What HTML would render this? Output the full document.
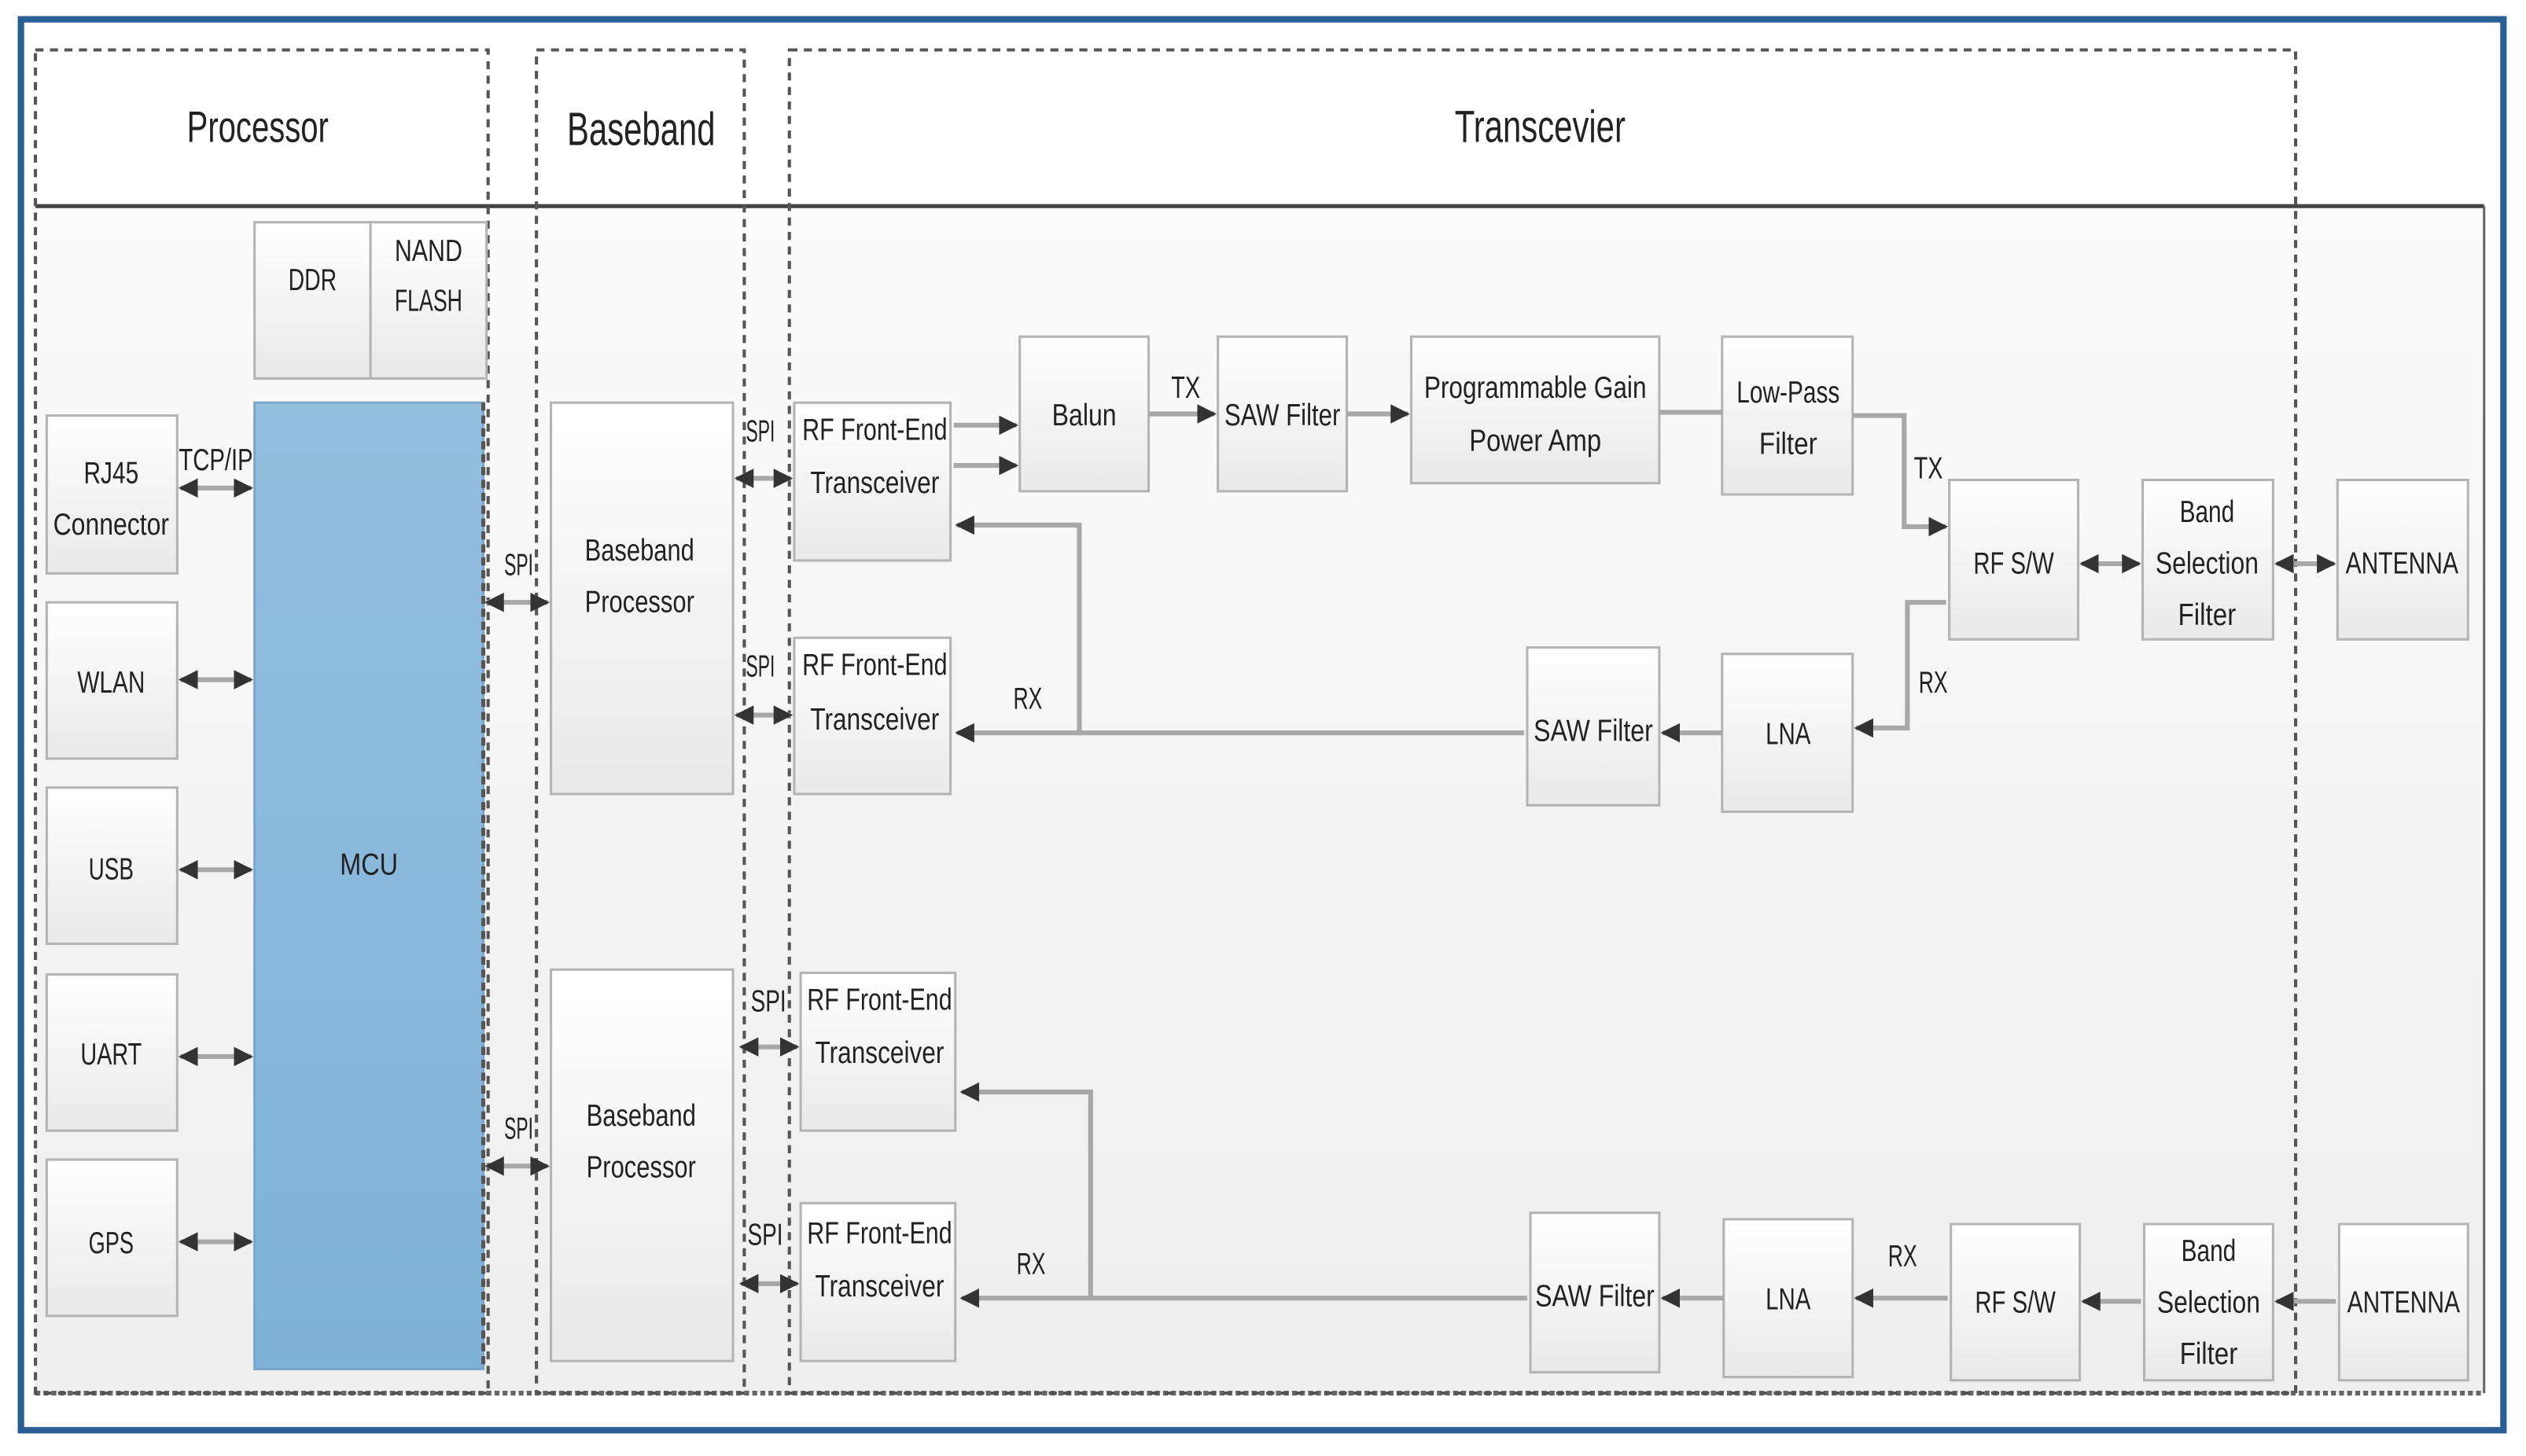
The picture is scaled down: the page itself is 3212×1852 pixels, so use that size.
<!DOCTYPE html>
<html><head><meta charset="utf-8"><style>
html,body{margin:0;padding:0;background:#fff;}
svg{display:block;}
text{font-family:"Liberation Sans",sans-serif;fill:#222;}
</style></head><body>
<svg width="3212" height="1852" viewBox="0 0 1568 904" preserveAspectRatio="none" xmlns="http://www.w3.org/2000/svg">
<defs>
<linearGradient id="bx" x1="0" y1="0" x2="0" y2="1"><stop offset="0" stop-color="#ffffff"/><stop offset="1" stop-color="#e9e9e9"/></linearGradient>
<linearGradient id="pn" x1="0" y1="0" x2="0" y2="1"><stop offset="0" stop-color="#fbfbfb"/><stop offset="1" stop-color="#eeeeee"/></linearGradient>
<linearGradient id="mcu" x1="0" y1="0" x2="0" y2="1"><stop offset="0" stop-color="#93bfdf"/><stop offset="1" stop-color="#7fb2d8"/></linearGradient>
<marker id="a" viewBox="0 0 10 10" refX="9" refY="5" markerWidth="4" markerHeight="4" orient="auto-start-reverse"><path d="M0,0L10,5L0,10z" fill="#333"/></marker>
</defs>
<rect x="0" y="0" width="1568" height="904" fill="#fff"/>
<!-- outer blue border -->
<rect x="13" y="12" width="1541" height="876" fill="#fff" stroke="#2a5f95" stroke-width="4"/>
<!-- inner panel -->
<rect x="22" y="128" width="1520" height="737" fill="url(#pn)"/>
<line x1="22" y1="128" x2="1542" y2="128" stroke="#444" stroke-width="2.5"/>
<line x1="1542" y1="128" x2="1542" y2="865" stroke="#666" stroke-width="1.5"/>
<line x1="22" y1="865" x2="1542" y2="865" stroke="#666" stroke-width="3" stroke-dasharray="3,2"/>
<!-- dashed regions -->
<g fill="none" stroke="#555" stroke-width="2" stroke-dasharray="5,4">
<rect x="22" y="31" width="281" height="834"/>
<rect x="333" y="31" width="129" height="834"/>
<rect x="490" y="31" width="935" height="834"/>
</g>
<text x="160" y="88" font-size="27" text-anchor="middle" textLength="88" lengthAdjust="spacingAndGlyphs">Processor</text>
<text x="398" y="90" font-size="29" text-anchor="middle" textLength="92" lengthAdjust="spacingAndGlyphs">Baseband</text>
<text x="956" y="88" font-size="28" text-anchor="middle" textLength="106" lengthAdjust="spacingAndGlyphs">Transcevier</text>

<!-- boxes -->
<g stroke="#b4b4b4" stroke-width="1.5" fill="url(#bx)">
<rect x="158" y="138" width="72" height="97"/>
<rect x="230" y="138" width="72" height="97"/>
<rect x="29" y="258" width="81" height="98"/>
<rect x="29" y="374" width="81" height="97"/>
<rect x="29" y="489" width="81" height="97"/>
<rect x="29" y="605" width="81" height="97"/>
<rect x="29" y="720" width="81" height="97"/>
<rect x="342" y="250" width="113" height="243"/>
<rect x="342" y="602" width="113" height="243"/>
<rect x="493" y="250" width="97" height="98"/>
<rect x="493" y="396" width="97" height="97"/>
<rect x="497" y="604" width="96" height="98"/>
<rect x="497" y="747" width="96" height="98"/>
<rect x="633" y="209" width="80" height="96"/>
<rect x="756" y="209" width="80" height="96"/>
<rect x="876" y="209" width="154" height="91"/>
<rect x="1069" y="209" width="81" height="98"/>
<rect x="1210" y="298" width="80" height="99"/>
<rect x="1330" y="298" width="81" height="99"/>
<rect x="1451" y="298" width="81" height="99"/>
<rect x="948" y="402" width="82" height="98"/>
<rect x="1069" y="406" width="81" height="98"/>
<rect x="950" y="753" width="80" height="99"/>
<rect x="1070" y="757" width="80" height="98"/>
<rect x="1211" y="760" width="80" height="97"/>
<rect x="1331" y="760" width="80" height="97"/>
<rect x="1452" y="760" width="80" height="97"/>
</g>
<rect x="158" y="250" width="142" height="600" fill="url(#mcu)" stroke="#7aa6c8" stroke-width="1.5"/>
<line x1="300" y1="250" x2="300" y2="850" stroke="#555" stroke-width="2.5" stroke-dasharray="5,3"/>

<!-- connectors -->
<g stroke="#a8a8a8" stroke-width="3" fill="none" marker-end="url(#a)" marker-start="url(#a)">
<line x1="112" y1="303" x2="156" y2="303"/>
<line x1="112" y1="422" x2="156" y2="422"/>
<line x1="112" y1="540" x2="156" y2="540"/>
<line x1="112" y1="656" x2="156" y2="656"/>
<line x1="112" y1="771" x2="156" y2="771"/>
<line x1="302" y1="374" x2="340" y2="374"/>
<line x1="302" y1="724" x2="340" y2="724"/>
<line x1="457" y1="297" x2="491" y2="297"/>
<line x1="457" y1="444" x2="491" y2="444"/>
<line x1="460" y1="650" x2="495" y2="650"/>
<line x1="460" y1="797" x2="495" y2="797"/>
<line x1="1292" y1="350" x2="1328" y2="350"/>
<line x1="1413" y1="350" x2="1449" y2="350"/>
</g>
<g stroke="#a8a8a8" stroke-width="3" fill="none" marker-end="url(#a)">
<line x1="592" y1="264" x2="631" y2="264"/>
<line x1="592" y1="289" x2="631" y2="289"/>
<line x1="713" y1="257" x2="754" y2="257"/>
<line x1="836" y1="257" x2="874" y2="257"/>
<polyline points="1150,258 1182,258 1182,327 1208,327"/>
<polyline points="1208,374 1184,374 1184,452 1152,452"/>
<line x1="1069" y1="455" x2="1032" y2="455"/>
<polyline points="946,455 670,455 670,326 594,326"/>
<line x1="670" y1="455" x2="594" y2="455"/>
<line x1="1329" y1="808" x2="1293" y2="808"/>
<line x1="1450" y1="808" x2="1413" y2="808"/>
<line x1="1209" y1="806" x2="1152" y2="806"/>
<line x1="1070" y1="806" x2="1032" y2="806"/>
<polyline points="948,806 677,806 677,678 597,678"/>
<line x1="677" y1="806" x2="597" y2="806"/>
</g>
<line x1="1030" y1="256" x2="1069" y2="256" stroke="#a8a8a8" stroke-width="3"/>

<!-- labels -->
<g font-size="19">
<text x="194" y="180" text-anchor="middle" textLength="30" lengthAdjust="spacingAndGlyphs">DDR</text>
<text x="266" y="162" text-anchor="middle" textLength="42" lengthAdjust="spacingAndGlyphs">NAND</text>
<text x="266" y="193" text-anchor="middle" textLength="42" lengthAdjust="spacingAndGlyphs">FLASH</text>
<text x="69" y="300" text-anchor="middle" textLength="34" lengthAdjust="spacingAndGlyphs">RJ45</text>
<text x="69" y="332" text-anchor="middle" textLength="72" lengthAdjust="spacingAndGlyphs">Connector</text>
<text x="69" y="430" text-anchor="middle" textLength="42" lengthAdjust="spacingAndGlyphs">WLAN</text>
<text x="69" y="546" text-anchor="middle" textLength="28" lengthAdjust="spacingAndGlyphs">USB</text>
<text x="69" y="661" text-anchor="middle" textLength="38" lengthAdjust="spacingAndGlyphs">UART</text>
<text x="69" y="778" text-anchor="middle" textLength="28" lengthAdjust="spacingAndGlyphs">GPS</text>
<text x="229" y="543" text-anchor="middle" textLength="36" lengthAdjust="spacingAndGlyphs">MCU</text>
<text x="134" y="292" text-anchor="middle" textLength="46" lengthAdjust="spacingAndGlyphs">TCP/IP</text>
<text x="322" y="357" text-anchor="middle" textLength="18" lengthAdjust="spacingAndGlyphs">SPI</text>
<text x="322" y="707" text-anchor="middle" textLength="18" lengthAdjust="spacingAndGlyphs">SPI</text>
<text x="397" y="348" text-anchor="middle" textLength="68" lengthAdjust="spacingAndGlyphs">Baseband</text>
<text x="397" y="380" text-anchor="middle" textLength="68" lengthAdjust="spacingAndGlyphs">Processor</text>
<text x="398" y="699" text-anchor="middle" textLength="68" lengthAdjust="spacingAndGlyphs">Baseband</text>
<text x="398" y="731" text-anchor="middle" textLength="68" lengthAdjust="spacingAndGlyphs">Processor</text>
<text x="472" y="274" text-anchor="middle" textLength="18" lengthAdjust="spacingAndGlyphs">SPI</text>
<text x="472" y="420" text-anchor="middle" textLength="18" lengthAdjust="spacingAndGlyphs">SPI</text>
<text x="477" y="628" text-anchor="middle" textLength="22" lengthAdjust="spacingAndGlyphs">SPI</text>
<text x="475" y="773" text-anchor="middle" textLength="22" lengthAdjust="spacingAndGlyphs">SPI</text>
<text x="543" y="273" text-anchor="middle" textLength="90" lengthAdjust="spacingAndGlyphs">RF Front-End</text>
<text x="543" y="306" text-anchor="middle" textLength="80" lengthAdjust="spacingAndGlyphs">Transceiver</text>
<text x="543" y="419" text-anchor="middle" textLength="90" lengthAdjust="spacingAndGlyphs">RF Front-End</text>
<text x="543" y="453" text-anchor="middle" textLength="80" lengthAdjust="spacingAndGlyphs">Transceiver</text>
<text x="546" y="627" text-anchor="middle" textLength="90" lengthAdjust="spacingAndGlyphs">RF Front-End</text>
<text x="546" y="660" text-anchor="middle" textLength="80" lengthAdjust="spacingAndGlyphs">Transceiver</text>
<text x="546" y="772" text-anchor="middle" textLength="90" lengthAdjust="spacingAndGlyphs">RF Front-End</text>
<text x="546" y="805" text-anchor="middle" textLength="80" lengthAdjust="spacingAndGlyphs">Transceiver</text>
<text x="673" y="264" text-anchor="middle" textLength="40" lengthAdjust="spacingAndGlyphs">Balun</text>
<text x="796" y="264" text-anchor="middle" textLength="72" lengthAdjust="spacingAndGlyphs">SAW Filter</text>
<text x="953" y="247" text-anchor="middle" textLength="138" lengthAdjust="spacingAndGlyphs">Programmable Gain</text>
<text x="953" y="280" text-anchor="middle" textLength="82" lengthAdjust="spacingAndGlyphs">Power Amp</text>
<text x="1110" y="250" text-anchor="middle" textLength="64" lengthAdjust="spacingAndGlyphs">Low-Pass</text>
<text x="1110" y="282" text-anchor="middle" textLength="36" lengthAdjust="spacingAndGlyphs">Filter</text>
<text x="1250" y="356" text-anchor="middle" textLength="50" lengthAdjust="spacingAndGlyphs">RF S/W</text>
<text x="1370" y="324" text-anchor="middle" textLength="34" lengthAdjust="spacingAndGlyphs">Band</text>
<text x="1370" y="356" text-anchor="middle" textLength="64" lengthAdjust="spacingAndGlyphs">Selection</text>
<text x="1370" y="388" text-anchor="middle" textLength="36" lengthAdjust="spacingAndGlyphs">Filter</text>
<text x="1491" y="356" text-anchor="middle" textLength="70" lengthAdjust="spacingAndGlyphs">ANTENNA</text>
<text x="989" y="460" text-anchor="middle" textLength="74" lengthAdjust="spacingAndGlyphs">SAW Filter</text>
<text x="1110" y="462" text-anchor="middle" textLength="28" lengthAdjust="spacingAndGlyphs">LNA</text>
<text x="990" y="811" text-anchor="middle" textLength="74" lengthAdjust="spacingAndGlyphs">SAW Filter</text>
<text x="1110" y="813" text-anchor="middle" textLength="28" lengthAdjust="spacingAndGlyphs">LNA</text>
<text x="1251" y="815" text-anchor="middle" textLength="50" lengthAdjust="spacingAndGlyphs">RF S/W</text>
<text x="1371" y="783" text-anchor="middle" textLength="34" lengthAdjust="spacingAndGlyphs">Band</text>
<text x="1371" y="815" text-anchor="middle" textLength="64" lengthAdjust="spacingAndGlyphs">Selection</text>
<text x="1371" y="847" text-anchor="middle" textLength="36" lengthAdjust="spacingAndGlyphs">Filter</text>
<text x="1492" y="815" text-anchor="middle" textLength="70" lengthAdjust="spacingAndGlyphs">ANTENNA</text>
<text x="736" y="247" text-anchor="middle" textLength="18" lengthAdjust="spacingAndGlyphs">TX</text>
<text x="1197" y="297" text-anchor="middle" textLength="18" lengthAdjust="spacingAndGlyphs">TX</text>
<text x="1200" y="430" text-anchor="middle" textLength="18" lengthAdjust="spacingAndGlyphs">RX</text>
<text x="638" y="440" text-anchor="middle" textLength="18" lengthAdjust="spacingAndGlyphs">RX</text>
<text x="640" y="791" text-anchor="middle" textLength="18" lengthAdjust="spacingAndGlyphs">RX</text>
<text x="1181" y="786" text-anchor="middle" textLength="18" lengthAdjust="spacingAndGlyphs">RX</text>
</g>
</svg>
</body></html>
